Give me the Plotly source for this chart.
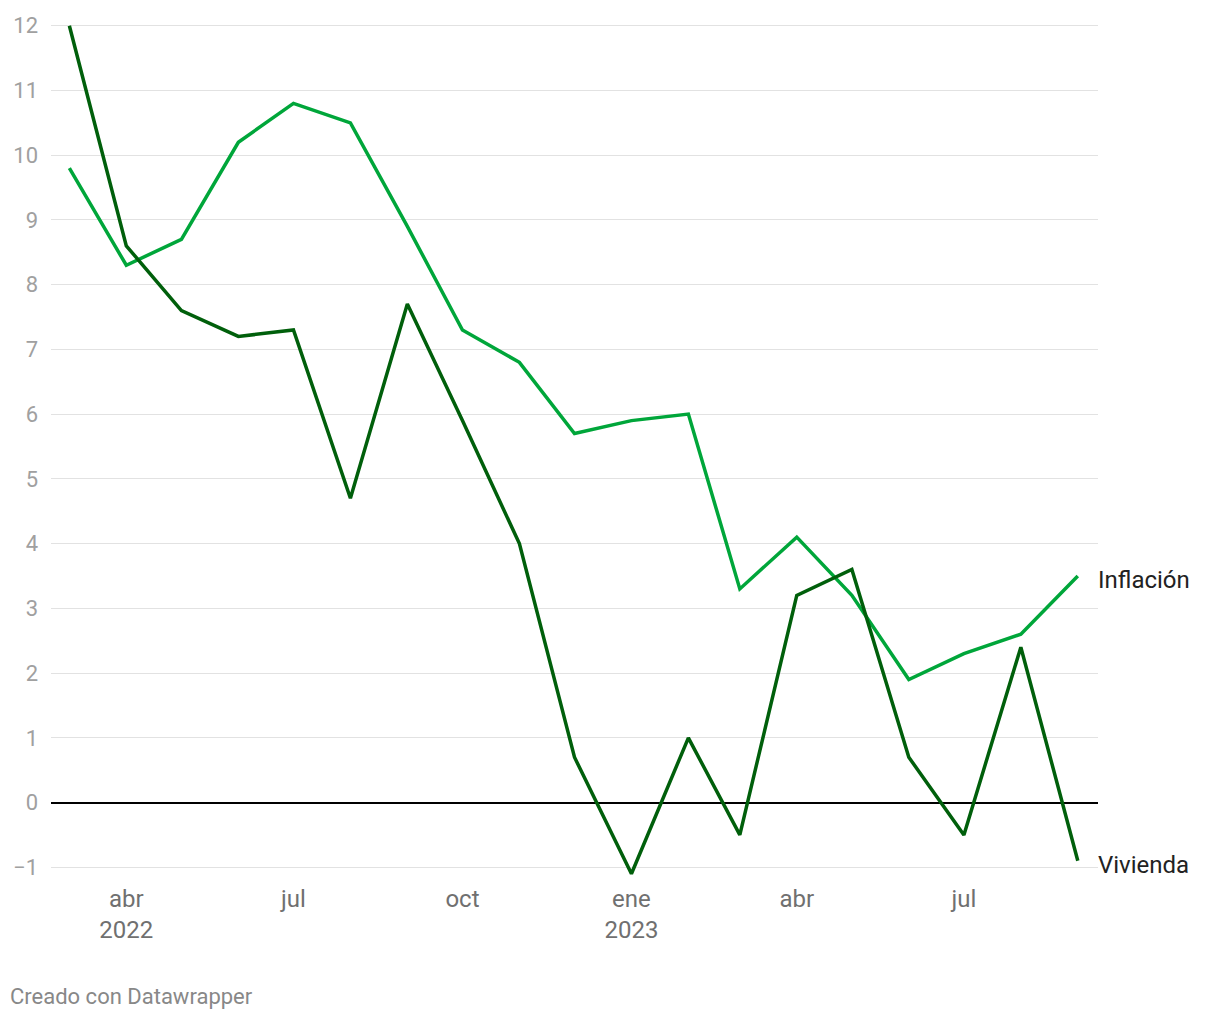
import plotly.graph_objects as go

months = ['2022-03-01', '2022-04-01', '2022-05-01', '2022-06-01', '2022-07-01', '2022-08-01',
          '2022-09-01', '2022-10-01', '2022-11-01', '2022-12-01', '2023-01-01', '2023-02-01',
          '2023-03-01', '2023-04-01', '2023-05-01', '2023-06-01', '2023-07-01', '2023-08-01',
          '2023-09-01']
inflacion = [9.8, 8.3, 8.7, 10.2, 10.8, 10.5, 8.9, 7.3, 6.8, 5.7, 5.9, 6.0,
             3.3, 4.1, 3.2, 1.9, 2.3, 2.6, 3.5]
vivienda = [12.0, 8.6, 7.6, 7.2, 7.3, 4.7, 7.7, 5.9, 4.0, 0.7, -1.1, 1.0,
            -0.5, 3.2, 3.6, 0.7, -0.5, 2.4, -0.9]

tick_vals = ['2022-04-01', '2022-07-01', '2022-10-01', '2023-01-01', '2023-04-01', '2023-07-01']
tick_text = ['abr<br>2022', 'jul', 'oct', 'ene<br>2023', 'abr', 'jul']
y_ticks = list(range(-1, 13))

fig = go.Figure()
fig.add_scatter(x=months, y=inflacion, name='Inflación', mode='lines',
                line=dict(color='#00a63a', width=3.5))
fig.add_scatter(x=months, y=vivienda, name='Vivienda', mode='lines',
                line=dict(color='#005f0b', width=3.5))

# labels at the end of each line
for name, vals in [('Inflación', inflacion), ('Vivienda', vivienda)]:
    fig.add_annotation(xref='paper', x=1, yref='y', y=vals[-1], text=name,
                       showarrow=False, xanchor='left', yanchor='middle', xshift=-2, yshift=-4,
                       font=dict(family='Roboto', size=24, color='#222222'))

fig.add_annotation(xref='paper', x=-0.041, yref='paper', y=-0.139, text='Creado con Datawrapper',
                   showarrow=False, xanchor='left', yanchor='middle',
                   font=dict(family='Roboto', size=22, color='#888888'))

# page body has an 8px margin, so the figure is a bit smaller than the window
fig.update_layout(
    width=1212, height=1012,
    margin=dict(l=42, r=122, t=5, b=143),
    plot_bgcolor='white', paper_bgcolor='white',
    showlegend=False,
    font=dict(family='Roboto'),
)
fig.update_xaxes(range=['2022-02-19', '2023-09-12'], tickvals=tick_vals, ticktext=tick_text,
                 showgrid=False, zeroline=False, showline=False, ticks='',
                 tickfont=dict(size=24, color='#707070'), ticklabelstandoff=5)
fig.update_yaxes(range=[-1.15, 12.15], tickvals=y_ticks,
                 ticktext=[('\u2212' + str(-v)) if v < 0 else str(v) for v in y_ticks],
                 showgrid=True, gridcolor='#e2e2e2', gridwidth=1,
                 zeroline=True, zerolinecolor='#000000', zerolinewidth=2,
                 showline=False, ticks='',
                 tickfont=dict(size=22, color='#a0a0a0'), ticklabelstandoff=12)

fig.write_html("out.html")
